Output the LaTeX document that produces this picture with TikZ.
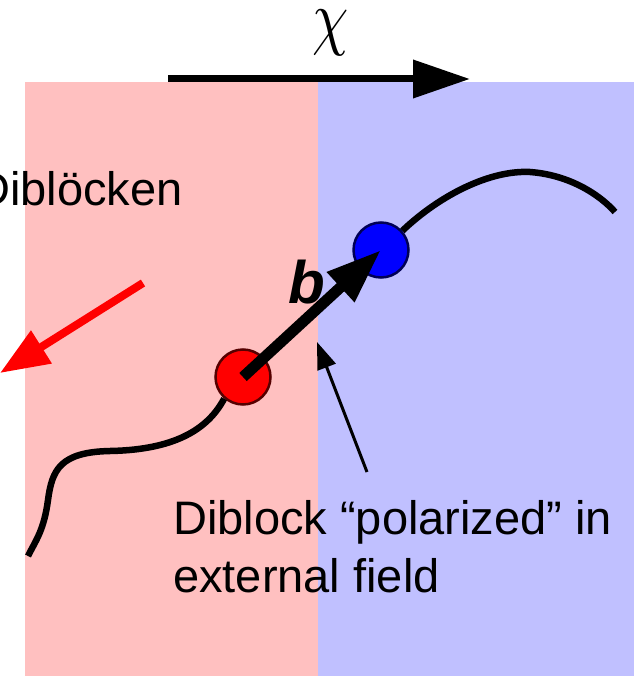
\documentclass[tikz,border=0pt]{standalone}
\usepackage{graphicx}
\usepackage{fontspec}
\setmainfont{Liberation Sans}
\usetikzlibrary{arrows.meta}
\definecolor{leftside}{HTML}{FFC0C0}
\definecolor{rightside}{HTML}{C0C0FF}
\definecolor{redbead}{HTML}{FF0000}
\definecolor{redrim}{HTML}{550000}
\definecolor{bluebead}{HTML}{0000FF}
\definecolor{bluerim}{HTML}{000055}

\tikzset{
  bead/.style={circle, inner sep=0pt, minimum size=55pt, line width=2.5pt},
  chain/.style={line width=6.5pt},
  label/.style={font=\fontsize{47}{58}\selectfont, inner sep=0pt}
}

\begin{document}
\begin{tikzpicture}[x=1pt, y=-1pt]
  \useasboundingbox (0,0) rectangle (634,676);

  % the two halves
  \fill[leftside] (25,82) rectangle (318,676);
  \fill[rightside] (318,82) rectangle (634,676);

  % field direction
  \coordinate (chiL) at (168,79);
  \coordinate (chiR) at (470,79);
  \draw[-{Triangle[length=57pt, width=37pt]}, line width=7pt] (chiL) -- (chiR);
  \node[inner sep=0pt] (chi) at (331,33) {\scalebox{5.8}[7.3]{$\chi$}};

  % leaving diblocks
  \node[label, anchor=base east] (leave) at (183,206) {Diblöcken};
  \coordinate (rtail) at (143,283);
  \coordinate (rtip) at (0,373);
  \draw[-{Triangle[length=49pt, width=37pt]}, redbead, line width=8pt] (rtail) -- (rtip);

  % the diblock
  \node[bead, fill=redbead, draw=redrim] (red) at (243,377) {};
  \node[bead, fill=bluebead, draw=bluerim] (blue) at (381,250) {};
  \draw[chain] (red.229) .. controls (205,435) and (165,450) .. (110,451)
    .. controls (60,452) and (52,470) .. (48,500)
    .. controls (44,530) and (36,540) .. (28,556);
  \draw[chain] (blue.42) .. controls (440,195) and (490,170) .. (530,172)
    .. controls (570,175) and (600,195) .. (615,212);
  \draw[-{Triangle[length=55pt, width=38pt]}, line width=11pt] (red.center) -- (blue.center);
  \node[inner sep=0pt, font=\fontsize{60}{60}\selectfont\bfseries\itshape] (bvec) at (307,282) {b};

  % pointer to the interface
  \coordinate (ptail) at (367,472);
  \coordinate (ptip) at (317,342);
  \draw[-{Triangle[length=27pt, width=19pt]}, line width=3pt] (ptail) -- (ptip);
  \node[label, anchor=base west, align=left] (note) at (173,592)
    {Diblock “polarized” in\\external field};
\end{tikzpicture}
\end{document}
